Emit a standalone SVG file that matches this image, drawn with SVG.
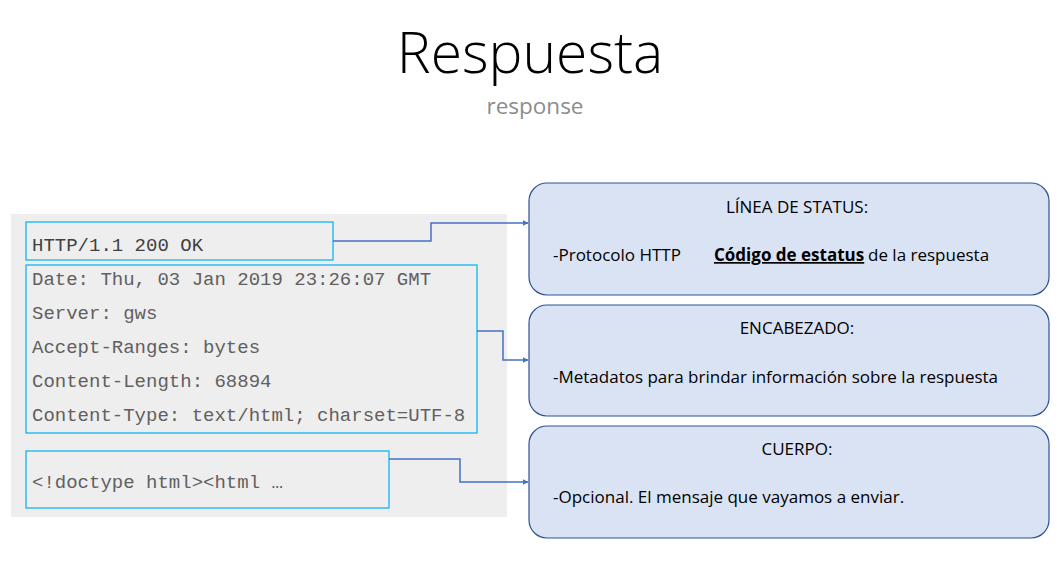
<svg xmlns="http://www.w3.org/2000/svg" width="1060" height="566" viewBox="0 0 1060 566">
<style>
.mono{font-family:"Liberation Mono","Courier New",monospace;font-size:19px;fill:#606060}
.lbox{fill:none;stroke:#00b0f0;stroke-width:1.2}
.rbox{fill:#dae3f3;stroke:#2f528f;stroke-width:1.2}
.t{font-family:"Open Sans","Liberation Sans",sans-serif;font-size:17px;fill:#000}
.conn{fill:none;stroke:#4472c4;stroke-width:1.5;marker-end:url(#ah)}
</style>
<defs>
<marker id="ah" viewBox="0 0 10 10" refX="9" refY="5" markerWidth="4" markerHeight="4" orient="auto" markerUnits="strokeWidth">
<path d="M0,0 L10,5 L0,10 z" fill="#4472c4"/>
</marker>
</defs>
<rect width="1060" height="566" fill="#fff"/>
<g id="title">
<text x="530" y="73" text-anchor="middle" font-family="Open Sans, Liberation Sans, sans-serif" font-weight="300" font-size="57" fill="#000">Respuesta</text>
<text x="535" y="114" text-anchor="middle" font-family="Open Sans, Liberation Sans, sans-serif" font-size="22.5" fill="#8c8c8c">response</text>
</g>
<g id="message">
<rect x="11" y="214" width="496" height="303" fill="#eeeeee"/>
</g>
<g id="status-line">
<rect class="lbox" x="26" y="222" width="307" height="38"/>
<text class="mono" x="32" y="251" style="fill:#404040">HTTP/1.1 200 OK</text>
</g>
<g id="headers">
<rect class="lbox" x="26" y="265" width="451" height="168"/>
<text class="mono" x="32" y="285">Date: Thu, 03 Jan 2019 23:26:07 GMT</text>
<text class="mono" x="32" y="319">Server: gws</text>
<text class="mono" x="32" y="353">Accept-Ranges: bytes</text>
<text class="mono" x="32" y="387">Content-Length: 68894</text>
<text class="mono" x="32" y="421">Content-Type: text/html; charset=UTF-8</text>
</g>
<g id="body">
<rect class="lbox" x="26" y="451" width="363" height="57"/>
<text class="mono" x="32" y="488">&lt;!doctype html&gt;&lt;html …</text>
</g>
<g id="connectors">
<path class="conn" d="M333,241 H431 V223 H528"/>
<path class="conn" d="M477,331 H503 V360 H528"/>
<path class="conn" d="M389,459 H460 V482 H528"/>
</g>
<g id="status-box">
<rect class="rbox" x="529" y="183" width="520" height="112" rx="18"/>
<text class="t" x="797" y="213" text-anchor="middle">LÍNEA DE STATUS:</text>
<text class="t" x="553" y="261">-Protocolo HTTP</text>
<text class="t" x="714" y="261" font-weight="bold" font-size="16.5" text-decoration="underline">Código de estatus</text>
<text class="t" x="868" y="261">de la respuesta</text>
</g>
<g id="header-box">
<rect class="rbox" x="529" y="305" width="520" height="111" rx="18"/>
<text class="t" x="797" y="334" text-anchor="middle">ENCABEZADO:</text>
<text class="t" x="553" y="383">-Metadatos para brindar información sobre la respuesta</text>
</g>
<g id="body-box">
<rect class="rbox" x="529" y="426" width="520" height="112" rx="18"/>
<text class="t" x="797" y="455" text-anchor="middle">CUERPO:</text>
<text class="t" x="553" y="503">-Opcional. El mensaje que vayamos a enviar.</text>
</g>
</svg>
